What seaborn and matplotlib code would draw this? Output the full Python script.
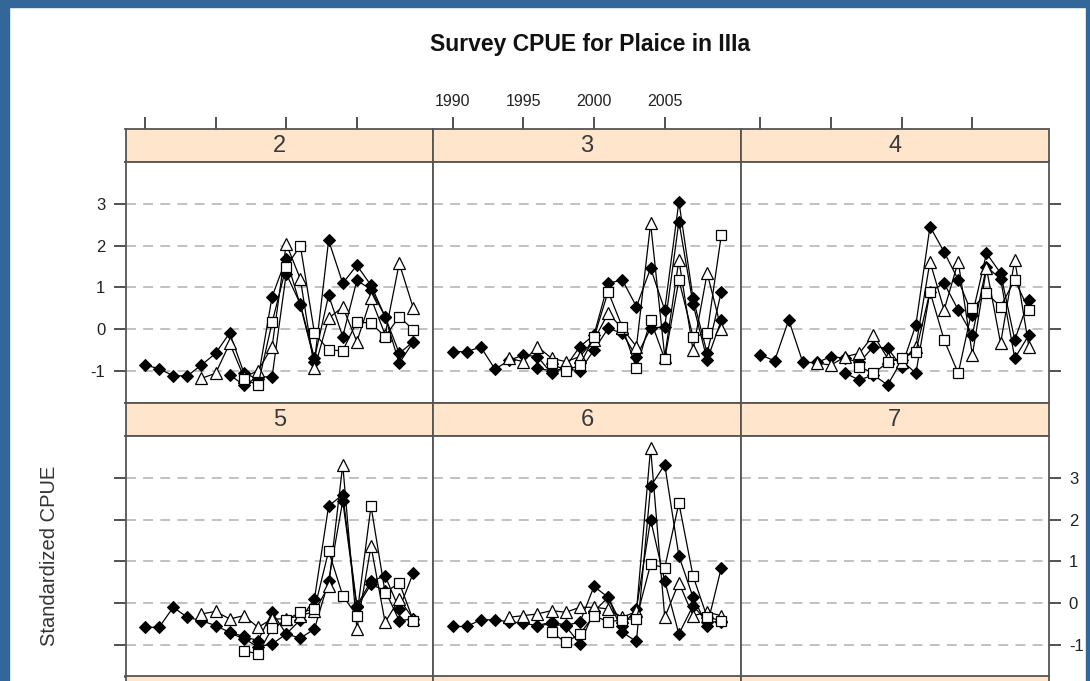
import numpy as np
import pandas as pd
import matplotlib
matplotlib.use("Agg")
import matplotlib.pyplot as plt
from matplotlib.patches import Rectangle
import seaborn as sns

sns.set_theme(style="white")
plt.rcParams["font.family"] = ["Liberation Sans", "DejaVu Sans"]
plt.rcParams["axes.unicode_minus"] = False

# ---- data: standardized survey CPUE by age, four survey series ----
age_labels = ["2", "3", "4", "5", "6", "7"]

# series start years
start_d1, start_d2, start_tri, start_sq = 1990, 1996, 1994, 1997

age2_d1 = [-0.86, -0.95, -1.12, -1.12, -0.86, -0.58, -0.09, -1.05, -1.20, 0.78,
           1.69, 0.57, -0.78, 2.13, 1.10, 1.53, 1.05, 0.30, -0.58, -0.30]
age2_d2 = [-1.10, -1.34, -1.15, -1.14, 1.33, 0.60, -0.70, 0.81, -0.18, 1.17, 0.95, 0.30, -0.82, -0.30]
age2_tri = [-1.18, -1.06, -0.34, -1.15, -1.00, -0.42, 2.05, 1.20, -0.94, 0.26, 0.53, -0.30, 0.74, -0.13, 1.58, 0.50]
age2_sq = [-1.20, -1.34, 0.16, 1.50, 2.00, -0.10, -0.50, -0.52, 0.18, 0.14, -0.18, 0.30, -0.02]

age3_d1 = [-0.54, -0.54, -0.43, -0.96, -0.75, -0.62, -0.66, -1.06, -0.90, -0.42,
           -0.14, 1.10, 1.18, 0.54, 1.46, 0.46, 3.06, 0.74, -0.58, 0.90]
age3_d2 = [-0.94, -1.00, -0.95, -1.00, -0.50, 0.02, -0.10, -0.66, 0.02, 0.06, 2.58, 0.60, -0.74, 0.22]
age3_tri = [-0.70, -0.78, -0.42, -0.70, -0.78, -0.66, -0.26, 0.38, 0.02, -0.42, 2.54, -0.66, 1.66, -0.50, 1.34, 0.00]
age3_sq = [-0.82, -1.00, -0.86, -0.20, 0.90, 0.05, -0.94, 0.22, -0.72, 1.18, -0.18, -0.10, 2.26]

age4_d1 = [-0.62, -0.76, 0.22, -0.80, -0.80, -0.66, -0.70, -0.80, -0.42, -0.46,
           -0.90, 0.10, 2.46, 1.85, 1.18, 0.34, 1.82, 1.34, -0.26, 0.70]
age4_d2 = [-1.06, -1.22, -1.10, -1.34, -0.75, -1.06, 0.90, 1.10, 0.46, -0.14, 1.50, 1.20, -0.70, -0.14]
age4_tri = [-0.82, -0.86, -0.66, -0.58, -0.14, -0.70, -0.78, -0.42, 1.62, 0.46, 1.62, -0.62, 1.46, -0.34, 1.66, -0.42]
age4_sq = [-0.90, -1.06, -0.80, -0.70, -0.54, 0.90, -0.26, -1.06, 0.50, 0.86, 0.54, 1.18, 0.46]

age5_d1 = [-0.58, -0.58, -0.10, -0.34, -0.42, -0.54, -0.70, -0.80, -0.90, -0.22,
           -0.74, -0.40, 0.11, 2.33, 2.60, -0.06, 0.53, 0.65, -0.14, 0.73]
age5_d2 = [-0.72, -0.85, -1.05, -0.98, -0.74, -0.84, -0.62, 0.53, 2.45, -0.10, 0.45, 0.30, -0.42, -0.38]
age5_tri = [-0.26, -0.20, -0.38, -0.30, -0.58, -0.38, -0.38, -0.30, -0.20, 0.40, 3.32, -0.62, 1.37, -0.46, 0.10, -0.38]
age5_sq = [-1.14, -1.22, -0.60, -0.40, -0.22, -0.14, 1.25, 0.18, -0.30, 2.33, 0.25, 0.49, -0.42]

age6_d1 = [-0.56, -0.56, -0.40, -0.40, -0.45, -0.48, -0.54, -0.45, -0.53, -0.46,
           0.40, 0.14, -0.70, -0.92, 2.80, 3.32, 1.13, 0.14, -0.54, 0.85]
age6_d2 = [-0.54, -0.50, -0.55, -0.98, -0.20, 0.14, -0.55, -0.13, 2.00, 0.53, -0.74, -0.06, -0.45, -0.45]
age6_tri = [-0.34, -0.30, -0.26, -0.18, -0.22, -0.10, -0.10, -0.14, -0.34, -0.20, 3.72, -0.34, 0.49, -0.30, -0.22, -0.30]
age6_sq = [-0.70, -0.94, -0.74, -0.30, -0.45, -0.40, -0.37, 0.93, 0.85, 2.40, 0.65, -0.34, -0.42]

panel_data = {
    "2": (age2_d1, age2_d2, age2_tri, age2_sq),
    "3": (age3_d1, age3_d2, age3_tri, age3_sq),
    "4": (age4_d1, age4_d2, age4_tri, age4_sq),
    "5": (age5_d1, age5_d2, age5_tri, age5_sq),
    "6": (age6_d1, age6_d2, age6_tri, age6_sq),
}

x_ticks = [1990, 1995, 2000, 2005]
y_ticks = [-1, 0, 1, 2, 3]

# ---- layout in pixels ----
W, H = 1090, 681
fig = plt.figure(figsize=(W / 100, H / 100), dpi=100)
fig.patch.set_facecolor("white")


def rect(x0, y0, x1, y1):
    return [x0 / W, 1 - y1 / H, (x1 - x0) / W, (y1 - y0) / H]


# blue frame
frame_col = "#336699"
fig.patches.append(Rectangle((0, 0), 8.5 / W, 1, transform=fig.transFigure, color=frame_col, zorder=10))
fig.patches.append(Rectangle((0, 1 - 6.5 / H), 1, 6.5 / H, transform=fig.transFigure, color=frame_col, zorder=10))
fig.patches.append(Rectangle((1 - 4 / W, 0), 4 / W, 1, transform=fig.transFigure, color=frame_col, zorder=10))

cols = [(125.5, 433.0), (433.0, 741.0), (741.0, 1048.5)]
strip_rows = [(129.0, 161.5), (402.5, 435.5), (676.5, 712.0)]
panel_rows = [(161.5, 402.5), (435.5, 676.5)]
XLIM = (1988.62, 2010.39)
YLIM = (-1.76, 4.02)
border = "#555555"
strip_fill = "#FFE5CC"
tick_len = 12 * 72 / 100

fig.text(590 / W, 1 - 45 / H, "Survey CPUE for Plaice in IIIa", ha="center", va="center",
         fontsize=16.5, fontweight="bold", color="#111111")
fig.text(50 / W, 1 - 556 / H, "Standardized CPUE", ha="center", va="center",
         rotation=90, fontsize=14.5, color="#333333")

series_style = [
    dict(marker="D", markersize=6.0, markerfacecolor="black", markeredgecolor="black"),
    dict(marker="D", markersize=6.0, markerfacecolor="black", markeredgecolor="black"),
    dict(marker="^", markersize=9.0, markerfacecolor="white", markeredgecolor="black", markeredgewidth=0.9),
    dict(marker="s", markersize=7.0, markerfacecolor="white", markeredgecolor="black", markeredgewidth=0.9),
]
starts = [start_d1, start_d2, start_tri, start_sq]

for r in range(3):
    for c in range(3):
        idx = r * 3 + c
        x0, x1 = cols[c]
        s0, s1 = strip_rows[r]
        sax = fig.add_axes(rect(x0, s0, x1, s1))
        sax.set_facecolor(strip_fill)
        sax.set_xlim(XLIM)
        sax.set_ylim(0, 1)
        sax.set_yticks([])
        for sp in sax.spines.values():
            sp.set_color(border)
            sp.set_linewidth(1.3)
        if r == 0:
            sax.xaxis.tick_top()
            sax.set_xticks(x_ticks)
            sax.tick_params(axis="x", direction="out", length=tick_len, width=1.2,
                            color="#333333", labelsize=11.5, labelcolor="#222222", pad=6)
            if c != 1:
                sax.set_xticklabels([])
        else:
            sax.set_xticks([])
        if r < 2 and idx < len(age_labels):
            sax.text(0.5, 0.47, age_labels[idx], transform=sax.transAxes, ha="center",
                     va="center", fontsize=17, color="#3a3a3a")
        if r == 2:
            continue

        p0, p1 = panel_rows[r]
        ax = fig.add_axes(rect(x0, p0, x1, p1))
        ax.set_facecolor("white")
        ax.set_xlim(XLIM)
        ax.set_ylim(YLIM)
        for sp in ax.spines.values():
            sp.set_color(border)
            sp.set_linewidth(1.3)
        for yv in y_ticks:
            ax.axhline(yv, color="#bcbcbc", lw=1.3, ls=(0, (5.5, 4)), zorder=0)
        ax.set_xticks([])
        ax.set_yticks(y_ticks)
        ax.tick_params(axis="y", direction="out", length=tick_len, width=1.2,
                       color="#333333", labelsize=12, labelcolor="#222222", pad=6)
        if c == 0:
            ax.yaxis.tick_left()
            if r != 0:
                ax.set_yticklabels([])
        elif c == 2:
            ax.yaxis.tick_right()
            if r != 1:
                ax.set_yticklabels([])
        else:
            ax.tick_params(axis="y", length=0, labelleft=False)

        lab = age_labels[idx]
        if lab in panel_data:
            for k, vals in enumerate(panel_data[lab]):
                yrs = list(range(starts[k], starts[k] + len(vals)))
                df = pd.DataFrame({"year": yrs, "cpue": vals})
                sns.lineplot(data=df, x="year", y="cpue", ax=ax, estimator=None,
                             color="black", linewidth=0.9, zorder=3 + k, **series_style[k])
            ax.set_xlim(XLIM)
            ax.set_ylim(YLIM)
        ax.set_xlabel("")
        ax.set_ylabel("")

fig.savefig("out.png", dpi=100, facecolor="white")
